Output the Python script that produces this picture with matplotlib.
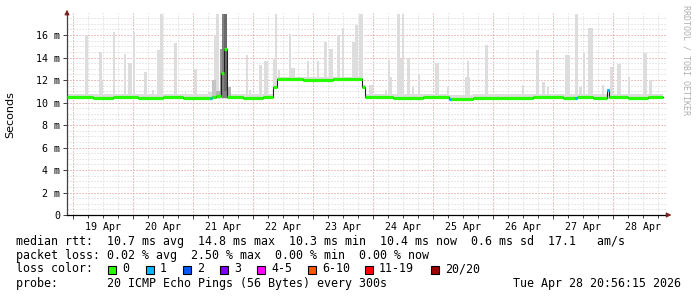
import matplotlib
matplotlib.use('Agg')
import matplotlib.pyplot as plt
from matplotlib.patches import Rectangle
from matplotlib.transforms import blended_transform_factory

# ---------------- data (time in hours since 19 Apr 00:00, values in ms) ----------------
x_start_h = -2.4
x_end_h = 237.6
day_labels = ['19 Apr', '20 Apr', '21 Apr', '22 Apr', '23 Apr',
              '24 Apr', '25 Apr', '26 Apr', '27 Apr', '28 Apr']
day_label_h = [12, 36, 60, 84, 108, 132, 156, 180, 204, 228]
y_ticks_ms = [0, 2, 4, 6, 8, 10, 12, 14, 16]
y_tick_labels = ['0', '2 m', '4 m', '6 m', '8 m', '10 m', '12 m', '14 m', '16 m']

# median rtt (step, post)
median_t = [-2.4, 8, 16, 26, 36, 44, 54.6, 55.4, 57.2, 59.2, 60.4, 61.5, 68, 76, 80,
            81.6, 92, 104, 115.6, 116.8, 128, 140, 150.4, 151.2, 160, 172, 184, 196,
            200.8, 201.6, 208, 213.6, 214.4, 222, 230]
median_ms = [10.45, 10.42, 10.46, 10.44, 10.47, 10.44, 10.37, 10.5, 10.58, 12.65, 14.8,
             10.45, 10.43, 10.46, 11.4, 12.05, 12.03, 12.06, 11.35, 10.45, 10.43, 10.45,
             10.33, 10.33, 10.42, 10.44, 10.46, 10.43, 10.4, 10.45, 10.44, 11.1, 10.45,
             10.42, 10.45]
median_end_h = 236.0

# samples with packet loss (start hour, duration, lost pings)
loss_t = [54.6, 150.4, 200.8, 213.6]
loss_dur = [0.8, 0.8, 0.8, 0.8]
loss_count = [1, 1, 1, 1]

# light smoke band
band_t = [-2.4, 54, 62, 80, 81.6, 115.6, 117, 150, 160, 236]
band_lo = [10.3, 10.3, 10.3, 11.2, 11.95, 11.2, 10.3, 10.25, 10.3]
band_hi = [10.75, 10.9, 10.8, 11.7, 12.3, 11.6, 10.75, 10.7, 10.75]

# smoke spikes (max ping of sample)
spike_t = [4.8, 10.4, 10.8, 16.0, 20.4, 22.0, 24.0, 28.4, 31.6, 33.6, 34.6, 40.4,
           44.6, 48.4, 56.4, 57.2, 69.2, 70.4, 74.4, 76.4, 80.0, 80.8, 82.0, 86.4,
           87.2, 91.2, 93.6, 95.2, 97.6, 100.4, 102.4, 105.6, 107.4, 110.0, 111.6,
           112.8, 114.4, 118.4, 124.8, 126.0, 126.4, 129.6, 130.4, 131.6, 133.6,
           135.6, 138.0, 144.8, 149.6, 156.8, 157.6, 164.8, 171.2, 179.6, 185.0,
           187.6, 189.6, 196.8, 200.8, 202.4, 204.0, 206.0, 211.6, 214.8, 217.6,
           222.0, 228.0, 230.4]
spike_dur = [1.0, 1.2, 1.2, 0.8, 0.8, 1.6, 0.6, 1.0, 0.6, 1.0, 1.2, 1.0,
             0.6, 1.0, 1.6, 1.2, 0.8, 0.8, 1.2, 1.4, 1.6, 0.8, 0.6, 0.8,
             1.6, 0.6, 0.8, 0.6, 0.8, 1.2, 1.4, 1.2, 1.0, 1.6, 1.2,
             1.0, 1.6, 1.6, 0.6, 0.8, 1.2, 1.2, 1.6, 0.8, 1.2,
             0.8, 0.8, 1.6, 0.8, 2.0, 0.8, 1.2, 0.8, 0.8, 1.2,
             1.2, 0.8, 2.0, 1.2, 1.2, 0.8, 2.0, 0.8, 1.2, 1.6,
             0.8, 1.6, 1.2]
spike_top = [16.0, 14.5, 12.0, 16.3, 14.3, 13.5, 16.3, 12.7, 11.1, 14.7, 17.9, 15.3,
             10.9, 13.0, 16.0, 17.9, 14.2, 11.1, 13.3, 13.7, 13.9, 17.9, 12.9, 16.1,
             13.1, 12.0, 13.7, 12.0, 13.7, 15.4, 14.8, 16.0, 16.6, 12.3, 15.4,
             16.9, 17.9, 11.6, 11.1, 13.8, 12.3, 17.9, 13.9, 17.9, 14.0,
             11.4, 12.5, 13.5, 11.4, 12.3, 13.7, 15.1, 10.8, 11.6, 14.7,
             11.8, 11.4, 14.2, 17.9, 11.4, 14.4, 16.6, 11.6, 13.2, 13.4,
             12.3, 14.4, 12.0]

# darker smoke around 21 Apr (several pings slow)
dark_t = [55.6, 57.2, 58.8, 59.6, 60.4, 61.6]
dark_dur = [1.6, 2.0, 0.8, 2.0, 1.0, 1.6]
dark_lo = [10.4, 10.4, 10.5, 10.4, 11.0, 10.4]
dark_hi = [12.0, 11.0, 14.8, 17.9, 17.9, 11.4]
dark_shade = ['#c4c4c4', '#b4b4b4', '#999999', '#808080', '#6a6a6a', '#b4b4b4']

loss_labels = ['0', '1', '2', '3', '4-5', '6-10', '11-19', '20/20']
loss_colors = ['#26ff00', '#00b8ff', '#0059ff', '#7e00ff', '#ff00ff', '#ff5500',
               '#ff0000', '#a00000']

stat_lines = [
    'median rtt:  10.7 ms avg  14.8 ms max  10.3 ms min  10.4 ms now  0.6 ms sd  17.1   am/s',
    'packet loss: 0.02 % avg  2.50 % max  0.00 % min  0.00 % now',
]
probe_line = 'probe:       20 ICMP Echo Pings (56 Bytes) every 300s'
date_text = 'Tue Apr 28 20:56:15 2026'

# ---------------- figure ----------------
W, H = 697, 297
fig = plt.figure(figsize=(W / 100, H / 100), dpi=100)
fig.patch.set_facecolor('white')
ax = fig.add_axes([67 / W, 82 / H, 600 / W, 202 / H])
ax.set_xlim(x_start_h, x_end_h)
ax.set_ylim(0, 17.96)
ax.set_facecolor('white')

mono = 'DejaVu Sans Mono'

# grid
grid_dash = (0, (1.2, 1.8))
for h in range(0, 240, 6):
    ax.axvline(h, color='#dadada', lw=0.72, ls=grid_dash, zorder=0)
for k in range(1, 36):
    ax.axhline(k * 0.5, color='#dadada', lw=0.72, ls=grid_dash, zorder=0)
for h in range(0, 240, 24):
    ax.axvline(h, color='#f2a8a8', lw=0.72, ls=grid_dash, zorder=0.5)
for v in y_ticks_ms[1:]:
    ax.axhline(v, color='#f2a8a8', lw=0.72, ls=grid_dash, zorder=0.5)

# smoke band
for i in range(len(band_lo)):
    ax.add_patch(Rectangle((band_t[i], band_lo[i]), band_t[i + 1] - band_t[i],
                           band_hi[i] - band_lo[i], facecolor='#dddddd',
                           edgecolor='none', zorder=1))


def median_at(t):
    val = median_ms[0]
    for tt, vv in zip(median_t, median_ms):
        if tt <= t:
            val = vv
    return val


# spikes
for t, d, top in zip(spike_t, spike_dur, spike_top):
    b = median_at(t) - 0.1
    ax.add_patch(Rectangle((t, b), d, top - b, facecolor='#dddddd',
                           edgecolor='none', zorder=1.2))

for t, d, lo, hi, c in zip(dark_t, dark_dur, dark_lo, dark_hi, dark_shade):
    ax.add_patch(Rectangle((t, lo), d, hi - lo, facecolor=c, edgecolor='none', zorder=1.4))

# median line: thin dark connection + colored horizontal segments
ends = median_t[1:] + [median_end_h]
ax.step(median_t + [median_end_h], median_ms + [median_ms[-1]], where='post',
        color='#202020', lw=0.8, zorder=2)
ax.hlines(median_ms, median_t, ends, colors=loss_colors[0], lw=2.3, zorder=3)
for t, d, n in zip(loss_t, loss_dur, loss_count):
    ax.hlines(median_at(t), t, t + d, colors=loss_colors[n], lw=2.3, zorder=3.5)

# axes styling
for s in ['top', 'right']:
    ax.spines[s].set_visible(False)
ax.spines['left'].set_color('#404040')
ax.spines['bottom'].set_color('black')
ax.spines['left'].set_linewidth(0.9)
ax.spines['bottom'].set_linewidth(0.9)
ax.set_yticks(y_ticks_ms)
ax.set_yticklabels(y_tick_labels, fontfamily=mono, fontsize=7.2)
ax.set_xticks(list(range(0, 240, 24)))
ax.set_xticklabels([])
ax.set_xticks(list(range(0, 240, 6)), minor=True)
ax.tick_params(axis='both', which='major', length=3, width=0.7, color='#404040',
               pad=2, labelcolor='black')
ax.tick_params(axis='x', which='minor', length=2, width=0.7, color='#404040')
trans = blended_transform_factory(ax.transData, ax.transAxes)
for h, lab in zip(day_label_h, day_labels):
    ax.text(h, -0.035, lab, transform=trans, ha='center', va='top',
            fontfamily=mono, fontsize=7.2)

# arrows
ax.annotate('', xy=(0, 1.03), xytext=(0, 0.99), xycoords='axes fraction',
            arrowprops=dict(arrowstyle='-|>', color='#7f1f1f', lw=0.8,
                            mutation_scale=7), annotation_clip=False)
ax.annotate('', xy=(1.012, 0), xytext=(0.998, 0), xycoords='axes fraction',
            arrowprops=dict(arrowstyle='-|>', color='#7f1f1f', lw=0.8,
                            mutation_scale=7), annotation_clip=False)

# labels
fig.text(10 / W, 1 - 115 / H, 'Seconds', rotation=90, ha='center', va='center',
         fontsize=8, fontfamily='DejaVu Sans')
fig.text(686 / W, 1 - 60 / H, 'RRDTOOL / TOBI OETIKER', rotation=270, ha='center',
         va='center', fontsize=6, fontfamily=mono, color='#b0b0b0')

fs = 8.4
fig.text(16 / W, 1 - 241 / H, stat_lines[0], ha='left', va='center', fontfamily=mono, fontsize=fs)
fig.text(16 / W, 1 - 255 / H, stat_lines[1], ha='left', va='center', fontfamily=mono, fontsize=fs)
fig.text(16 / W, 1 - 269 / H, 'loss color:', ha='left', va='center', fontfamily=mono, fontsize=fs)
box_px = [108, 146, 183, 220, 257, 308, 365, 431]
for bx, lab, col in zip(box_px, loss_labels, loss_colors):
    fig.patches.append(Rectangle((bx / W, 1 - 273.5 / H), 8 / W, 8 / H,
                                 transform=fig.transFigure, facecolor=col,
                                 edgecolor='black', lw=0.8))
    fig.text((bx + 14) / W, 1 - 269 / H, lab, ha='left', va='center',
             fontfamily=mono, fontsize=fs)
fig.text(16 / W, 1 - 283 / H, probe_line, ha='left', va='center', fontfamily=mono, fontsize=fs)
fig.text(681 / W, 1 - 283 / H, date_text, ha='right', va='center', fontfamily=mono, fontsize=fs)

fig.savefig('out.png', dpi=100)
